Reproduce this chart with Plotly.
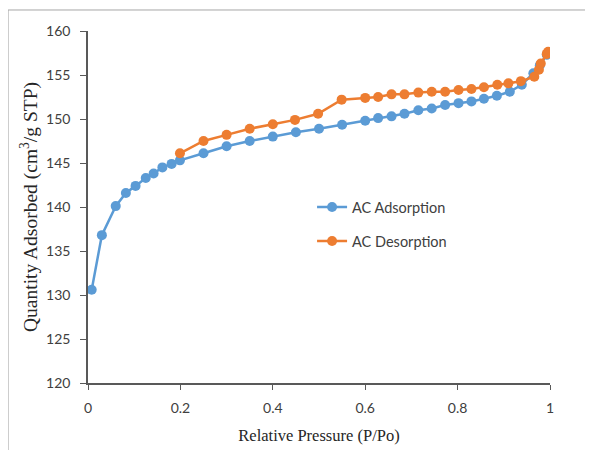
import plotly.graph_objects as go

ads_x = [0.008, 0.030, 0.060, 0.082, 0.103, 0.125, 0.142, 0.161, 0.181, 0.199, 0.25, 0.30, 0.35, 0.40,
         0.45, 0.50, 0.55, 0.60, 0.628, 0.657, 0.685, 0.715, 0.744, 0.773, 0.802, 0.830, 0.857, 0.885,
         0.913, 0.939, 0.964, 0.978, 0.993]
ads_y = [130.6, 136.8, 140.1, 141.6, 142.4, 143.3, 143.8, 144.5, 144.9, 145.3, 146.1, 146.9, 147.5, 148.0,
         148.5, 148.9, 149.35, 149.8, 150.1, 150.3, 150.6, 151.0, 151.2, 151.6, 151.8, 152.0, 152.3, 152.65,
         153.1, 153.9, 155.2, 156.1, 157.3]

des_x = [0.199, 0.25, 0.30, 0.35, 0.40, 0.448, 0.498, 0.549, 0.60, 0.628, 0.657, 0.685, 0.715, 0.744,
         0.773, 0.802, 0.830, 0.857, 0.886, 0.910, 0.937, 0.966, 0.976, 0.98, 0.993, 0.996]
des_y = [146.1, 147.5, 148.2, 148.9, 149.4, 149.9, 150.6, 152.2, 152.4, 152.5, 152.8, 152.8, 153.0, 153.1,
         153.1, 153.3, 153.4, 153.6, 153.9, 154.05, 154.3, 154.8, 155.6, 156.3, 157.4, 157.65]

x_ticks = [0, 0.2, 0.4, 0.6, 0.8, 1]
x_tick_labels = ["0", "0.2", "0.4", "0.6", "0.8", "1"]
y_ticks = [120, 125, 130, 135, 140, 145, 150, 155, 160]

BLUE = "#5B9BD5"
ORANGE = "#ED7D31"
AXIS = "#595959"
SERIF = "Liberation Serif, Times New Roman, serif"

fig = go.Figure()
fig.add_trace(go.Scatter(x=ads_x, y=ads_y, mode="lines+markers", name="AC Adsorption",
                         legendgroup="a",
                         line=dict(color=BLUE, width=2.5), marker=dict(color=BLUE, size=10)))
fig.add_trace(go.Scatter(x=des_x, y=des_y, mode="lines+markers", name="AC Desorption",
                         legendgroup="d",
                         line=dict(color=ORANGE, width=2.5), marker=dict(color=ORANGE, size=10)))

fig.update_layout(
    width=593, height=450,
    margin=dict(l=80, r=51, t=23, b=75),
    paper_bgcolor="white", plot_bgcolor="white",
    font=dict(family="Lato, Liberation Sans, sans-serif", size=14, color="#404040"),
    showlegend=True,
    legend=dict(x=0.485, y=0.545, xanchor="left", yanchor="top", bgcolor="rgba(0,0,0,0)",
                font=dict(size=14.5, color="#404040"), tracegroupgap=12),
    xaxis=dict(range=[0, 1], tickvals=x_ticks, ticktext=x_tick_labels, showgrid=False, zeroline=False,
               showline=True, linecolor=AXIS, linewidth=1.5, ticks="outside", ticklen=5, tickcolor=AXIS,
               ticklabelstandoff=6,
               title=dict(text="Relative Pressure (P/Po)",
                          font=dict(family=SERIF, size=16.5, color="#262626"),
                          standoff=15)),
    yaxis=dict(range=[120, 160], tickvals=y_ticks, showgrid=False, zeroline=False,
               showline=True, linecolor=AXIS, linewidth=1.5, ticks="outside", ticklen=6, tickcolor=AXIS,
               ticklabelstandoff=7,
               title=dict(text="Quantity Adsorbed (cm<sup>3</sup>/g STP)",
                          font=dict(family=SERIF, size=19.5, color="#262626"),
                          standoff=3)),
    shapes=[dict(type="rect", xref="paper", yref="paper", x0=-0.173, x1=1.3, y0=-0.4, y1=1.0597,
                 line=dict(color="#A6A6A6", width=1), fillcolor="rgba(0,0,0,0)", layer="below")],
)

fig.write_html("out.html")
